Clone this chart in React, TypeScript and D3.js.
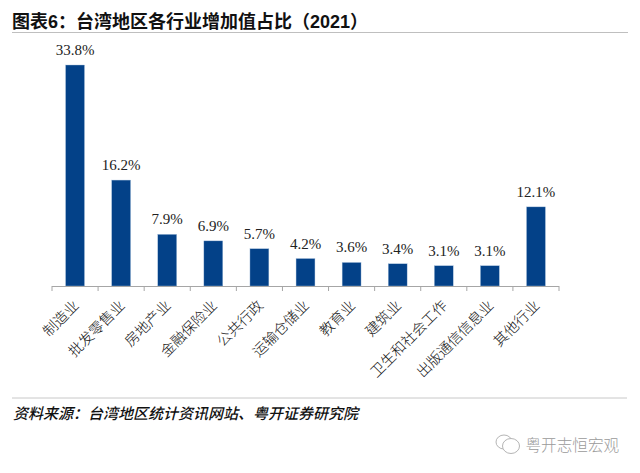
import React from "react";
import * as d3 from "d3";

const categories = ["制造业", "批发零售业", "房地产业", "金融保险业", "公共行政", "运输仓储业", "教育业", "建筑业", "卫生和社会工作", "出版通信信息业", "其他行业"];
const values = [33.8, 16.2, 7.9, 6.9, 5.7, 4.2, 3.6, 3.4, 3.1, 3.1, 12.1];
const titleParts = [
  { t: "图表", latin: false },
  { t: "6", latin: true },
  { t: "：台湾地区各行业增加值占比（", latin: false },
  { t: "2021", latin: true },
  { t: "）", latin: false },
];
const sourceText = "资料来源：台湾地区统计资讯网站、粤开证券研究院";
const watermark = "粤开志恒宏观";

const cjk = "'Noto Sans CJK SC', sans-serif";

export default function App() {
  const x = d3.scaleBand<string>().domain(categories).range([52, 559]).paddingInner(0.59).paddingOuter(0.295);
  const y = d3.scaleLinear().domain([0, 33.8]).range([286, 65]);
  const step = x.step();
  const tickXs = d3.range(categories.length + 1).map((i) => 52 + i * step);
  return (
    <svg width={640} height={473} style={{ position: "absolute", left: 0, top: 0, background: "#fff" }}>
      <text x={12} y={27.5} fontSize={18} fontWeight={700} fill="#111" fontFamily={cjk}>
        {titleParts.map((p, i) => (
          <tspan key={i} fontFamily={p.latin ? "'Liberation Sans', Arial, sans-serif" : cjk}>{p.t}</tspan>
        ))}
      </text>
      <line x1={12} x2={628} y1={32.5} y2={32.5} stroke="#bfbfbf" strokeWidth={1.2} />

      {categories.map((c, i) => (
        <g key={c}>
          <rect x={x(c)!} y={y(values[i])} width={x.bandwidth()} height={286 - y(values[i])} fill="#034188" stroke="#a9c0dd" strokeWidth={0.4} />
          <text x={x(c)! + x.bandwidth() / 2} y={y(values[i]) - 10} textAnchor="middle" fontSize={15} fill="#222" fontFamily="'Liberation Serif', 'Times New Roman', serif">
            {values[i].toFixed(1)}%
          </text>
          <text
            transform={`translate(${x(c)! + x.bandwidth() / 2},${302}) rotate(-45)`}
            textAnchor="end"
            dominantBaseline="central"
            fontSize={14.5}
            fill="#111"
            fontFamily={cjk}
            fontWeight={300}
          >
            {c}
          </text>
        </g>
      ))}
      <line x1={52} x2={559} y1={286.5} y2={286.5} stroke="#a6a6a6" strokeWidth={1} />
      {tickXs.map((t, i) => (
        <line key={i} x1={t} x2={t} y1={286} y2={291} stroke="#a6a6a6" strokeWidth={1} />
      ))}

      <line x1={12} x2={627} y1={398} y2={398} stroke="#c8c8c8" strokeWidth={1} />
      <text x={13} y={419} fontSize={15} fontStyle="italic" fontWeight={500} fill="#111" fontFamily={cjk}>{sourceText}</text>

      <g fill="#fff" stroke="#b5b5b5" strokeWidth={1}>
        <ellipse cx={504} cy={442} rx={8} ry={7} />
        <ellipse cx={511} cy={446} rx={8.5} ry={7.5} />
      </g>
      <text x={525.5} y={451} fontSize={15.6} fill="#9a9a9a" fontFamily={cjk} fontWeight={300}>{watermark}</text>
    </svg>
  );
}
